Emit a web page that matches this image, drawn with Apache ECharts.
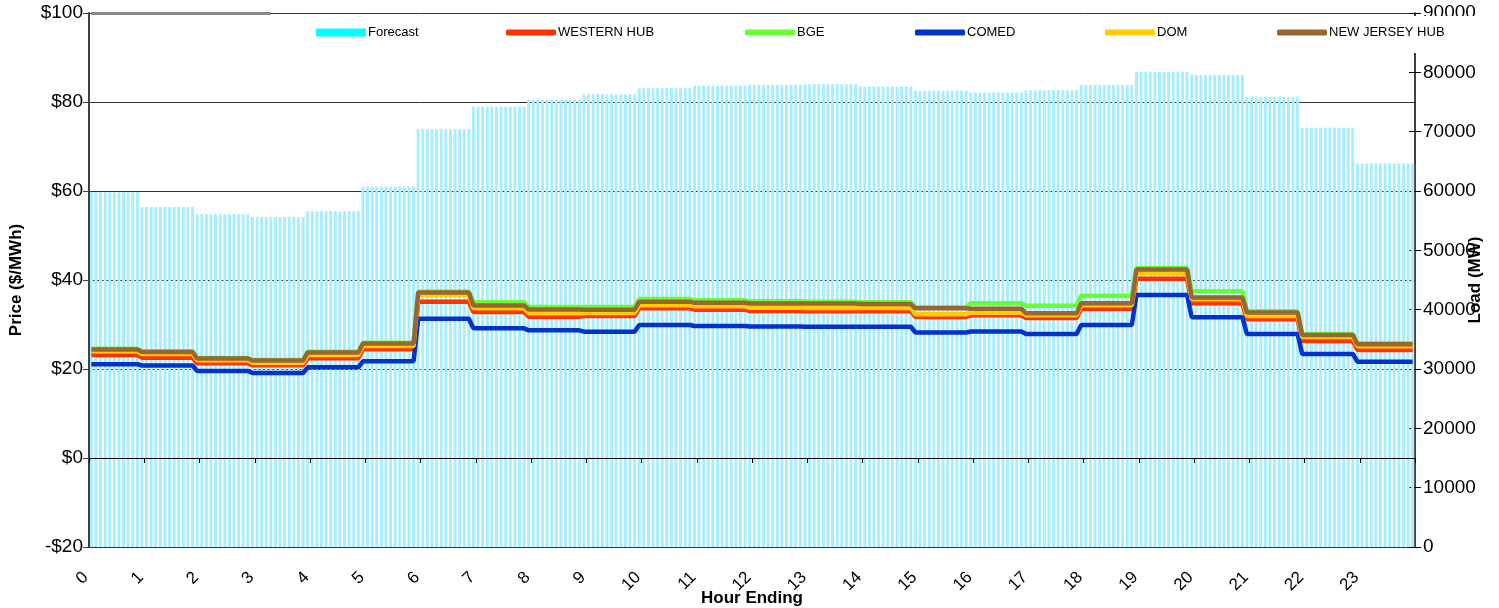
<!DOCTYPE html>
<html><head><meta charset="utf-8">
<script src="https://cdn.jsdelivr.net/npm/echarts@6/dist/echarts.min.js"></script>
<style>html,body{margin:0;padding:0;background:#fff}#c{width:1499px;height:608px}</style>
</head><body><div id="c"></div>
<script>
// ---- data (hourly values, hour ending 0..23) ----
const hourLabels = ['0','1','2','3','4','5','6','7','8','9','10','11','12','13','14','15','16','17','18','19','20','21','22','23'];
const forecast   = [59800,57300,56100,55600,56600,60700,70400,74200,75400,76300,77300,77750,77850,78000,77600,76900,76600,77000,77850,80100,79550,75900,70650,64650];
const westernHub = [23.15,22.55,21.27,20.82,22.40,24.42,35.13,32.81,31.76,31.91,33.63,33.33,33.03,33.00,33.00,31.70,32.06,31.46,33.56,40.30,34.76,31.16,26.29,24.27];
const bge        = [24.57,23.97,22.47,22.02,23.89,25.92,37.38,34.98,33.93,33.93,35.73,35.43,35.20,35.10,35.00,33.86,34.76,34.23,36.48,42.70,37.45,32.96,27.87,25.77];
const comed      = [21.09,20.79,19.55,19.10,20.37,21.72,31.27,29.14,28.69,28.39,29.89,29.66,29.55,29.50,29.50,28.20,28.43,27.87,29.89,36.63,31.65,27.87,23.37,21.65];
const dom        = [23.97,23.37,21.95,21.42,23.15,25.17,36.63,33.63,32.51,32.58,34.31,34.08,33.78,33.70,33.70,32.28,32.66,32.06,34.31,41.50,35.66,31.91,27.19,25.09];
const njHub      = [24.38,23.82,22.36,21.91,23.71,25.73,37.19,34.27,33.37,33.30,35.13,34.87,34.72,34.70,34.60,33.63,33.56,32.51,34.79,42.36,36.07,32.70,27.64,25.58];
const stepsPerHour = 12; // 5-minute intervals
const topEdgeEnd = 39;   // grey border segment along the top ($100) line

// 5-minute categories
const categories = [];
hourLabels.forEach(h => { for (let m = 0; m < stepsPerHour; m++) categories.push(h + ':' + String(m * 5).padStart(2, '0')); });
const expand = hourly => categories.map((_, i) => hourly[Math.min(hourly.length - 1, Math.floor((i + 1) / stepsPerHour))]);

const FONT = 'Liberation Sans, Arial, sans-serif';
const chart = echarts.init(document.getElementById('c'), null, {renderer: 'canvas'});

const lineSeries = (name, data, color) => ({
  name, type: 'line', data: expand(data), xAxisIndex: 0, yAxisIndex: 0,
  showSymbol: false, symbol: 'none', silent: true,
  lineStyle: {color, width: 4.5}, itemStyle: {color}
});

const legendSpec = [['Forecast', 316], ['WESTERN HUB', 506], ['BGE', 745], ['COMED', 915], ['DOM', 1105], ['NEW JERSEY HUB', 1277]];

const wh = lineSeries('WESTERN HUB', westernHub, '#ff3300');
wh.markLine = {
  symbol: 'none', silent: true, label: {show: false},
  lineStyle: {color: '#8a8a8a', width: 3, type: 'solid'},
  data: [[{coord: [categories[0], 100]}, {coord: [categories[topEdgeEnd], 100]}]]
};

chart.setOption({
  animation: false,
  textStyle: {fontFamily: FONT, color: '#000'},
  grid: {left: 89, right: 84, top: 13, bottom: 61, containLabel: false, outerBoundsMode: 'none'},
  legend: legendSpec.map(([name, left], k) => ({
    data: [name === 'Forecast' ? {name, icon: 'rect', itemStyle: {color: '#00ffff'}} : {name, icon: 'roundRect'}],
    left: left, top: k === 5 ? 16 : 26,
    padding: k === 5 ? [10, 50, 14, 0] : 0,
    backgroundColor: k === 5 ? '#ffffff' : 'transparent',
    itemWidth: 50, itemHeight: name === 'Forecast' ? 8 : 6, itemGap: 0,
    selectedMode: false,
    textStyle: {fontFamily: FONT, fontSize: 13, color: '#000', padding: [0, 0, 0, -3]}
  })),
  xAxis: [
    {
      type: 'category', data: categories, boundaryGap: true, position: 'bottom', z: 3,
      axisLine: {show: true, onZero: true, onZeroAxisIndex: 0, lineStyle: {color: '#000', width: 1}},
      axisTick: {show: true, interval: i => i % stepsPerHour === 0, length: 5, lineStyle: {color: '#000'}},
      axisLabel: {show: false}, splitLine: {show: false}
    },
    {
      type: 'category', data: categories, boundaryGap: true, position: 'bottom',
      axisLine: {show: false, onZero: false}, axisTick: {show: false}, splitLine: {show: false},
      axisLabel: {show: true, interval: i => i % stepsPerHour === 0, formatter: v => v.split(':')[0],
        rotate: 45, fontSize: 17, color: '#000', fontFamily: FONT, margin: 22, padding: [0, 8, 0, 0]},
      name: 'Hour Ending', nameLocation: 'middle', nameGap: 43, nameMoveOverlap: false,
      nameTextStyle: {fontFamily: FONT, fontWeight: 'bold', fontSize: 17, color: '#000'}
    }
  ],
  yAxis: [
    {
      type: 'value', position: 'left', min: -20, max: 100, interval: 20, z: 3,
      axisLine: {show: true, lineStyle: {color: '#404040', width: 2}},
      axisTick: {show: true, length: 6, lineStyle: {color: '#404040'}},
      axisLabel: {formatter: v => (v < 0 ? '-$' + (-v) : '$' + v), fontSize: 19, color: '#000', fontFamily: FONT, margin: 6},
      splitLine: {show: false},
      name: 'Price ($/MWh)', nameLocation: 'middle', nameGap: 64, nameRotate: 90, nameMoveOverlap: false,
      nameTextStyle: {fontFamily: FONT, fontWeight: 'bold', fontSize: 17, color: '#000'}
    },
    {
      type: 'value', position: 'right', min: 0, max: 90000, interval: 10000,
      axisLine: {show: true, lineStyle: {color: '#000', width: 1.5}},
      axisTick: {show: true, length: 6, lineStyle: {color: '#000'}},
      axisLabel: {formatter: v => String(v), fontSize: 19, color: '#000', fontFamily: FONT, margin: 8},
      splitLine: {show: false},
      name: 'Load (MW)', nameLocation: 'middle', nameGap: 52, nameRotate: 90, nameMoveOverlap: false,
      nameTextStyle: {fontFamily: FONT, fontWeight: 'bold', fontSize: 17, color: '#000'}
    },
    {
      type: 'value', position: 'left', min: -20, max: 100, interval: 20,
      axisLine: {show: false}, axisTick: {show: false}, axisLabel: {show: false},
      splitLine: {show: true, lineStyle: {color: '#333', width: 1}}
    },
    {
      type: 'value', position: 'right', min: 0, max: 90000, interval: 10000,
      axisLine: {show: false}, axisLabel: {show: false}, splitLine: {show: false},
      axisTick: {show: true, inside: true, length: 6, lineStyle: {color: '#000'}}
    }
  ],
  series: [
    {
      name: 'Forecast', type: 'bar', data: expand(forecast), xAxisIndex: 0, yAxisIndex: 1,
      barWidth: 3, silent: true, itemStyle: {color: '#a9edff'}
    },
    wh,
    lineSeries('BGE', bge, '#66ff33'),
    lineSeries('COMED', comed, '#0033cc'),
    lineSeries('DOM', dom, '#ffcc00'),
    lineSeries('NEW JERSEY HUB', njHub, '#996633')
  ]
});
</script>
</body></html>
